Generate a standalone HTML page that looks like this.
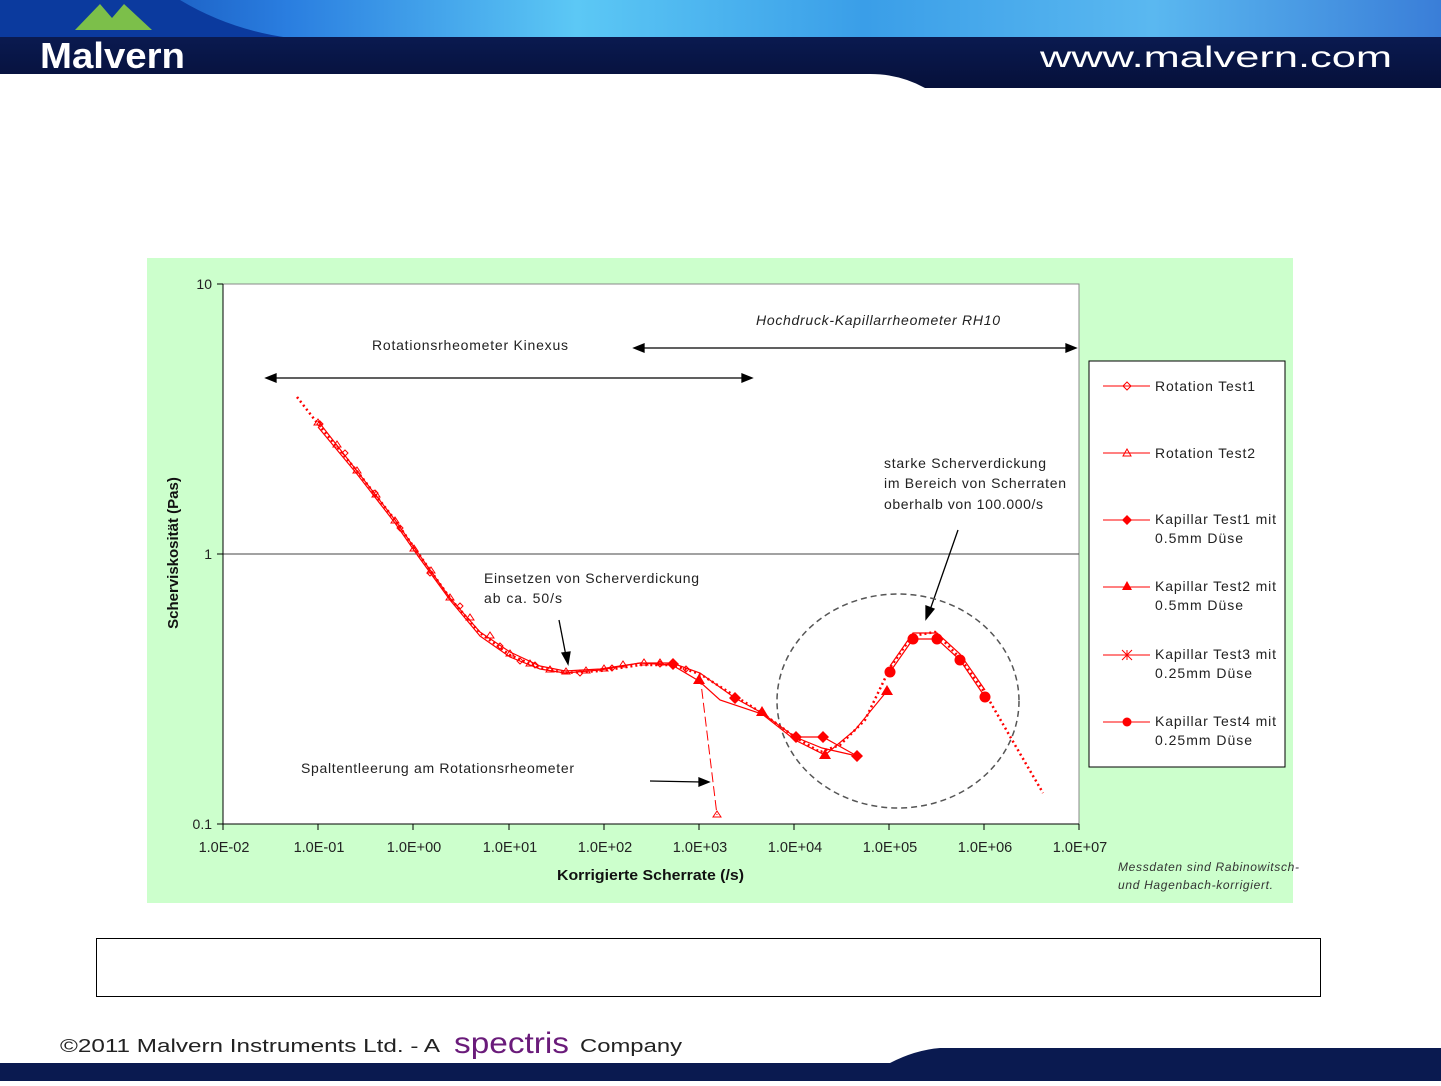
<!DOCTYPE html>
<html><head><meta charset="utf-8"><style>
body{margin:0;width:1441px;height:1081px;overflow:hidden;background:#fff;font-family:"Liberation Sans",sans-serif}
</style></head><body>
<svg width="1441" height="1081" viewBox="0 0 1441 1081" xmlns="http://www.w3.org/2000/svg" font-family="Liberation Sans, sans-serif">
<defs>
<linearGradient id="sky" x1="0" x2="1" y1="0" y2="0">
<stop offset="0" stop-color="#0a3aa0"/><stop offset="0.2" stop-color="#2a7ee0"/><stop offset="0.4" stop-color="#5cc8f5"/><stop offset="0.6" stop-color="#3a9ee8"/><stop offset="0.8" stop-color="#5ab8f0"/><stop offset="1" stop-color="#3a7ed8"/>
</linearGradient>
<linearGradient id="navy" x1="0" x2="0" y1="0" y2="1"><stop offset="0" stop-color="#0a1a50"/><stop offset="1" stop-color="#06103a"/></linearGradient>
</defs>
<rect x="0" y="0" width="1441" height="38" fill="url(#sky)"/>
<path d="M0 0 H180 Q230 30 290 38 H0Z" fill="#0b3a9e"/>
<path d="M0 37 H1441 V88 H925 Q900 74 870 74 H0Z" fill="url(#navy)"/>
<polygon points="75,30 100,4 112,18 124,4 152,30" fill="#7cbf4a"/>
<text x="40" y="68" font-size="36" font-weight="bold" fill="#fff" textLength="145" lengthAdjust="spacingAndGlyphs">Malvern</text>
<text x="1040" y="67" font-size="30" fill="#fff" textLength="352" lengthAdjust="spacingAndGlyphs">www.malvern.com</text>

<rect x="147" y="258" width="1146" height="645" fill="#ccffcc"/>
<rect x="223" y="284" width="856" height="540" fill="#fff" stroke="#888" stroke-width="1"/>
<line x1="223" y1="554" x2="1079" y2="554" stroke="#444" stroke-width="1"/>
<line x1="223" y1="284" x2="223" y2="824" stroke="#000"/>
<line x1="223" y1="824" x2="1079" y2="824" stroke="#000"/>
<g stroke="#000">
<line x1="217" y1="284" x2="223" y2="284"/><line x1="217" y1="554" x2="223" y2="554"/><line x1="217" y1="824" x2="223" y2="824"/>
<line x1="223" y1="824" x2="223" y2="830"/><line x1="318" y1="824" x2="318" y2="830"/><line x1="413" y1="824" x2="413" y2="830"/><line x1="509" y1="824" x2="509" y2="830"/><line x1="604" y1="824" x2="604" y2="830"/><line x1="699" y1="824" x2="699" y2="830"/><line x1="794" y1="824" x2="794" y2="830"/><line x1="889" y1="824" x2="889" y2="830"/><line x1="984" y1="824" x2="984" y2="830"/><line x1="1079" y1="824" x2="1079" y2="830"/>
</g>
<g font-size="14" fill="#222" text-anchor="end">
<text x="212" y="289">10</text><text x="212" y="559">1</text><text x="212" y="829">0.1</text>
</g>
<g font-size="14.5" fill="#222" text-anchor="middle">
<text x="224" y="852">1.0E-02</text><text x="319" y="852">1.0E-01</text><text x="414" y="852">1.0E+00</text><text x="510" y="852">1.0E+01</text><text x="605" y="852">1.0E+02</text><text x="700" y="852">1.0E+03</text><text x="795" y="852">1.0E+04</text><text x="890" y="852">1.0E+05</text><text x="985" y="852">1.0E+06</text><text x="1080" y="852">1.0E+07</text>
</g>
<text x="557" y="880" font-size="15" font-weight="bold" fill="#111" textLength="187" lengthAdjust="spacingAndGlyphs">Korrigierte Scherrate (/s)</text>
<text transform="translate(178,553) rotate(-90)" font-size="15" font-weight="bold" text-anchor="middle" fill="#111">Scherviskosität (Pas)</text>
<text x="1118" y="871" font-size="12" font-style="italic" fill="#333" textLength="181">Messdaten sind Rabinowitsch-</text>
<text x="1118" y="889" font-size="12" font-style="italic" fill="#333" textLength="155">und Hagenbach-korrigiert.</text>

<g font-size="14" fill="#222">
<text x="372" y="350" textLength="196">Rotationsrheometer Kinexus</text>
<text x="756" y="325" font-style="italic" textLength="244">Hochdruck-Kapillarrheometer RH10</text>
<text x="884" y="468" textLength="162">starke Scherverdickung</text>
<text x="884" y="488" textLength="182">im Bereich von Scherraten</text>
<text x="884" y="509" textLength="159">oberhalb von 100.000/s</text>
<text x="484" y="583" textLength="215">Einsetzen von Scherverdickung</text>
<text x="484" y="603" textLength="78">ab ca. 50/s</text>
<text x="301" y="773" textLength="273">Spaltentleerung am Rotationsrheometer</text>
</g>
<g stroke="#000" stroke-width="1.3" fill="#000">
<line x1="272" y1="378" x2="746" y2="378"/><polygon points="266,378 276,374 276,382"/><polygon points="752,378 742,374 742,382"/>
<line x1="640" y1="348" x2="1070" y2="348"/><polygon points="634,348 644,344 644,352"/><polygon points="1076,348 1066,344 1066,352"/>
<line x1="559" y1="620" x2="566" y2="656"/><polygon points="568,664 562,653 570,652"/>
<line x1="958" y1="530" x2="930" y2="610"/><polygon points="926,619 926,606 934,609"/>
<line x1="650" y1="781" x2="702" y2="782"/><polygon points="709,782 699,778 699,786"/>
</g>
<ellipse cx="898" cy="701" rx="121" ry="107" fill="none" stroke="#555" stroke-width="1.5" stroke-dasharray="6,4"/>

<g fill="none" stroke="#f00">
<polyline stroke-width="2.5" stroke-dasharray="2,3" points="297,397 318,424 357,471 395,520 418,553 450,598 480,633 510,655 540,668 565,673 600,671 640,665 672,665 700,674 735,696 762,713 795,737 820,752 840,745 865,720 890,668 912,636 935,632 960,658 985,693 1015,745 1043,793"/>
<polyline stroke-width="1.2" points="318,421 357,471 395,520 418,553 450,598 480,632 510,652 540,666 565,671 600,669 640,663 672,663 700,673 735,698 762,713 795,737 822,748 857,756"/>
<polyline stroke-width="1.2" points="318,427 357,474 395,523 418,556 450,600 480,636 510,657 540,669 565,673 600,670 640,663 672,665 699,681 720,700 762,714 795,740 825,755 855,730 887,691"/>
<polyline stroke-width="1.2" points="795,737 823,737 857,756"/>
<polyline stroke-width="1.2" points="890,672 913,639 937,639 960,660 985,697"/>
<polyline stroke-width="1.2" points="890,666 913,633 937,633 960,654 985,690"/>
<polyline stroke-width="1" stroke-dasharray="10,4" points="700,675 717,815"/>
</g>
<g fill="none" stroke="#f00" stroke-width="1">
<path d="M318 419l-4 6h8z M337 441l-4 6h8z M357 467l-4 6h8z M376 491l-4 6h8z M395 517l-4 6h8z M414 545l-4 6h8z M431 567l-4 6h8z M450 594l-4 6h8z M470 614l-4 6h8z M490 632l-4 6h8z M510 650l-4 6h8z M530 660l-4 6h8z M550 666l-4 6h8z M566 668l-4 6h8z M586 667l-4 6h8z M604 665l-4 6h8z M623 661l-4 6h8z M644 659l-4 6h8z M660 659l-4 6h8z M717 811l-4 6h8z"/>
<path d="M320 421l3 3-3 3-3-3z M345 450l3 3-3 3-3-3z M375 490l3 3-3 3-3-3z M400 525l3 3-3 3-3-3z M430 570l3 3-3 3-3-3z M460 603l3 3-3 3-3-3z M500 643l3 3-3 3-3-3z M520 658l3 3-3 3-3-3z M535 662l3 3-3 3-3-3z M580 670l3 3-3 3-3-3z M612 665l3 3-3 3-3-3z M660 661l3 3-3 3-3-3z M686 666l3 3-3 3-3-3z"/>
</g>
<g fill="#f00">
<path d="M673 658l6 6-6 6-6-6z M735 692l6 6-6 6-6-6z M796 731l6 6-6 6-6-6z M823 731l6 6-6 6-6-6z M857 750l6 6-6 6-6-6z"/>
<path d="M699 674l-6 10h12z M762 706l-6 10h12z M825 749l-6 10h12z M887 685l-6 10h12z"/>
<circle cx="890" cy="672" r="5.5"/><circle cx="913" cy="639" r="5.5"/><circle cx="937" cy="639" r="5.5"/><circle cx="960" cy="660" r="5.5"/><circle cx="985" cy="697" r="5.5"/>
</g>

<rect x="1089" y="361" width="196" height="406" fill="#fff" stroke="#000"/>
<g stroke="#f00" fill="none"><line x1="1103" y1="386" x2="1150" y2="386"/><line x1="1103" y1="453" x2="1150" y2="453"/><line x1="1103" y1="520" x2="1150" y2="520"/><line x1="1103" y1="587" x2="1150" y2="587"/><line x1="1103" y1="655" x2="1150" y2="655"/><line x1="1103" y1="722" x2="1150" y2="722"/>
<path d="M1127 382l4 4-4 4-4-4z M1127 449l-4 7h8z M1122 650l10 10 M1132 650l-10 10 M1127 650v10"/></g>
<g fill="#f00"><path d="M1127 515l5 5-5 5-5-5z M1127 581l-5 9h10z"/><circle cx="1127" cy="722" r="4.5"/></g>
<g font-size="14" fill="#222">
<text x="1155" y="391" textLength="100">Rotation Test1</text><text x="1155" y="458" textLength="100">Rotation Test2</text>
<text x="1155" y="524" textLength="121">Kapillar Test1 mit</text><text x="1155" y="543" textLength="88">0.5mm Düse</text>
<text x="1155" y="591" textLength="121">Kapillar Test2 mit</text><text x="1155" y="610" textLength="88">0.5mm Düse</text>
<text x="1155" y="659" textLength="121">Kapillar Test3 mit</text><text x="1155" y="678" textLength="97">0.25mm Düse</text>
<text x="1155" y="726" textLength="121">Kapillar Test4 mit</text><text x="1155" y="745" textLength="97">0.25mm Düse</text>
</g>

<rect x="96.5" y="938.5" width="1224" height="58" fill="#fff" stroke="#000"/>
<text x="60" y="1052" font-size="18" fill="#222" textLength="380" lengthAdjust="spacingAndGlyphs">©2011 Malvern Instruments Ltd. - A</text>
<text x="454" y="1053" font-size="30" fill="#6a1b7a" textLength="115" lengthAdjust="spacingAndGlyphs">spectris</text>
<text x="580" y="1052" font-size="18" fill="#222" textLength="102" lengthAdjust="spacingAndGlyphs">Company</text>
<path d="M0 1063 H890 Q915 1050 940 1048 H1441 V1081 H0Z" fill="#0a1a50"/>
</svg>
</body></html>
